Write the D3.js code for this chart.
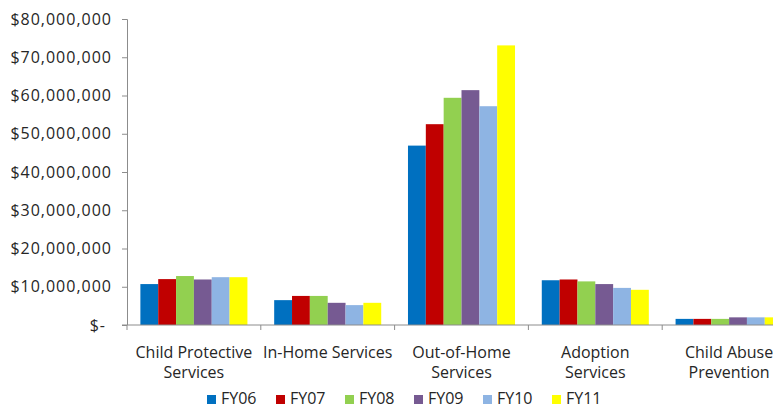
<!DOCTYPE html>
<html>
<head>
<meta charset="utf-8">
<script src="https://cdn.jsdelivr.net/npm/d3@7"></script>
<style>
  body { margin: 0; background: #fff; }
  svg text { font-family: "Open Sans", Lato, sans-serif; fill: #262626; }
</style>
</head>
<body>
<div id="chart"></div>
<script>
const categories = [
    "Child Protective Services",
    "In-Home Services",
    "Out-of-Home Services",
    "Adoption Services",
    "Child Abuse Prevention"
];
const categoryLines = [
    ["Child Protective", "Services"],
    ["In-Home Services"],
    ["Out-of-Home", "Services"],
    ["Adoption", "Services"],
    ["Child Abuse", "Prevention"]
];
const years = ["FY06", "FY07", "FY08", "FY09", "FY10", "FY11"];
const colors = ["#0070C0", "#C00000", "#92D050", "#765A92", "#8EB4E3", "#FFFF00"];

// values per category, in year order
const fy06 = [10700000, 6500000, 46900000, 11700000, 1600000];
const fy07 = [12000000, 7600000, 52500000, 11900000, 1600000];
const fy08 = [12800000, 7600000, 59400000, 11400000, 1600000];
const fy09 = [11900000, 5800000, 61400000, 10700000, 2000000];
const fy10 = [12500000, 5200000, 57200000, 9700000, 2000000];
const fy11 = [12500000, 5800000, 73100000, 9200000, 2000000];
const series = [fy06, fy07, fy08, fy09, fy10, fy11];

const yTicks = [0, 10000000, 20000000, 30000000, 40000000, 50000000, 60000000, 70000000, 80000000];

const width = 773;
const height = 410;
const margin = { top: 19, left: 127 };
const innerHeight = 306;
const plotWidth = 669; // runs past the right edge, as in the original

const svg = d3.select("#chart")
    .append("svg")
    .attr("width", width)
    .attr("height", height);

const g = svg.append("g")
    .attr("transform", `translate(${margin.left},${margin.top})`);

const x0 = d3.scaleBand()
    .domain(categories)
    .range([0, plotWidth]);

// gap width 150%: each bar is bandwidth / (6 + 1.5)
const barW = x0.bandwidth() / 7.5;
const x1 = d3.scaleBand()
    .domain(years)
    .range([barW * 0.75, x0.bandwidth() - barW * 0.75]);

const y = d3.scaleLinear()
    .domain([0, 80000000])
    .range([innerHeight, 0]);

const axisColor = "#8c8c8c";

// bars
g.selectAll("g.cat")
    .data(categories)
    .join("g")
    .attr("class", "cat")
    .attr("transform", d => `translate(${x0(d)},0)`)
    .selectAll("rect")
    .data((d, i) => years.map((yr, j) => ({ yr, value: series[j][i], color: colors[j] })))
    .join("rect")
    .attr("x", d => x1(d.yr))
    .attr("width", x1.bandwidth())
    .attr("y", d => y(d.value))
    .attr("height", d => innerHeight - y(d.value))
    .attr("fill", d => d.color);

// y axis
const fmt = d3.format(",");
const yAxis = d3.axisLeft(y)
    .tickValues(yTicks)
    .tickSize(5)
    .tickPadding(10)
    .tickFormat(d => d === 0 ? "$-" : "$" + fmt(d));

const yG = g.append("g").call(yAxis);
yG.select(".domain").attr("stroke", axisColor).attr("d", `M-5,0.5H0.5V${innerHeight}`);
yG.selectAll(".tick line").attr("stroke", axisColor);
yG.selectAll(".tick text")
    .style("font-size", "16px")
    .style("letter-spacing", "1px")
    .attr("fill", "#262626");
yG.selectAll(".tick")
    .filter(d => d === 0)
    .select("text")
    .attr("dx", -6);

// x axis
const xG = g.append("g").attr("transform", `translate(0,${innerHeight})`);
xG.append("line")
    .attr("x1", -5).attr("x2", plotWidth)
    .attr("stroke", axisColor);
xG.selectAll("line.tk")
    .data(d3.range(categories.length + 1))
    .join("line")
    .attr("class", "tk")
    .attr("x1", i => i === categories.length ? plotWidth : x0(categories[i]))
    .attr("x2", i => i === categories.length ? plotWidth : x0(categories[i]))
    .attr("y1", 0).attr("y2", 5)
    .attr("stroke", axisColor);

xG.selectAll("text.cat")
    .data(categories)
    .join("text")
    .attr("class", "cat")
    .attr("x", d => x0(d) + x0.bandwidth() / 2)
    .attr("y", 33)
    .attr("text-anchor", "middle")
    .style("font-size", "16px")
    .selectAll("tspan")
    .data((d, i) => categoryLines[i])
    .join("tspan")
    .attr("x", function () { return this.parentNode.getAttribute("x"); })
    .attr("dy", (d, i) => i === 0 ? 0 : 19.5)
    .text(d => d);

// legend
const legend = svg.append("g")
    .attr("transform", "translate(207,404)");

const item = legend.selectAll("g")
    .data(years)
    .join("g")
    .attr("transform", (d, i) => `translate(${i * 69},0)`);

item.append("rect")
    .attr("x", 0).attr("y", -9)
    .attr("width", 9).attr("height", 9)
    .attr("fill", (d, i) => colors[i]);

item.append("text")
    .attr("x", 14)
    .attr("y", 0)
    .style("font-size", "16px")
    .text(d => d);
</script>
</body>
</html>
